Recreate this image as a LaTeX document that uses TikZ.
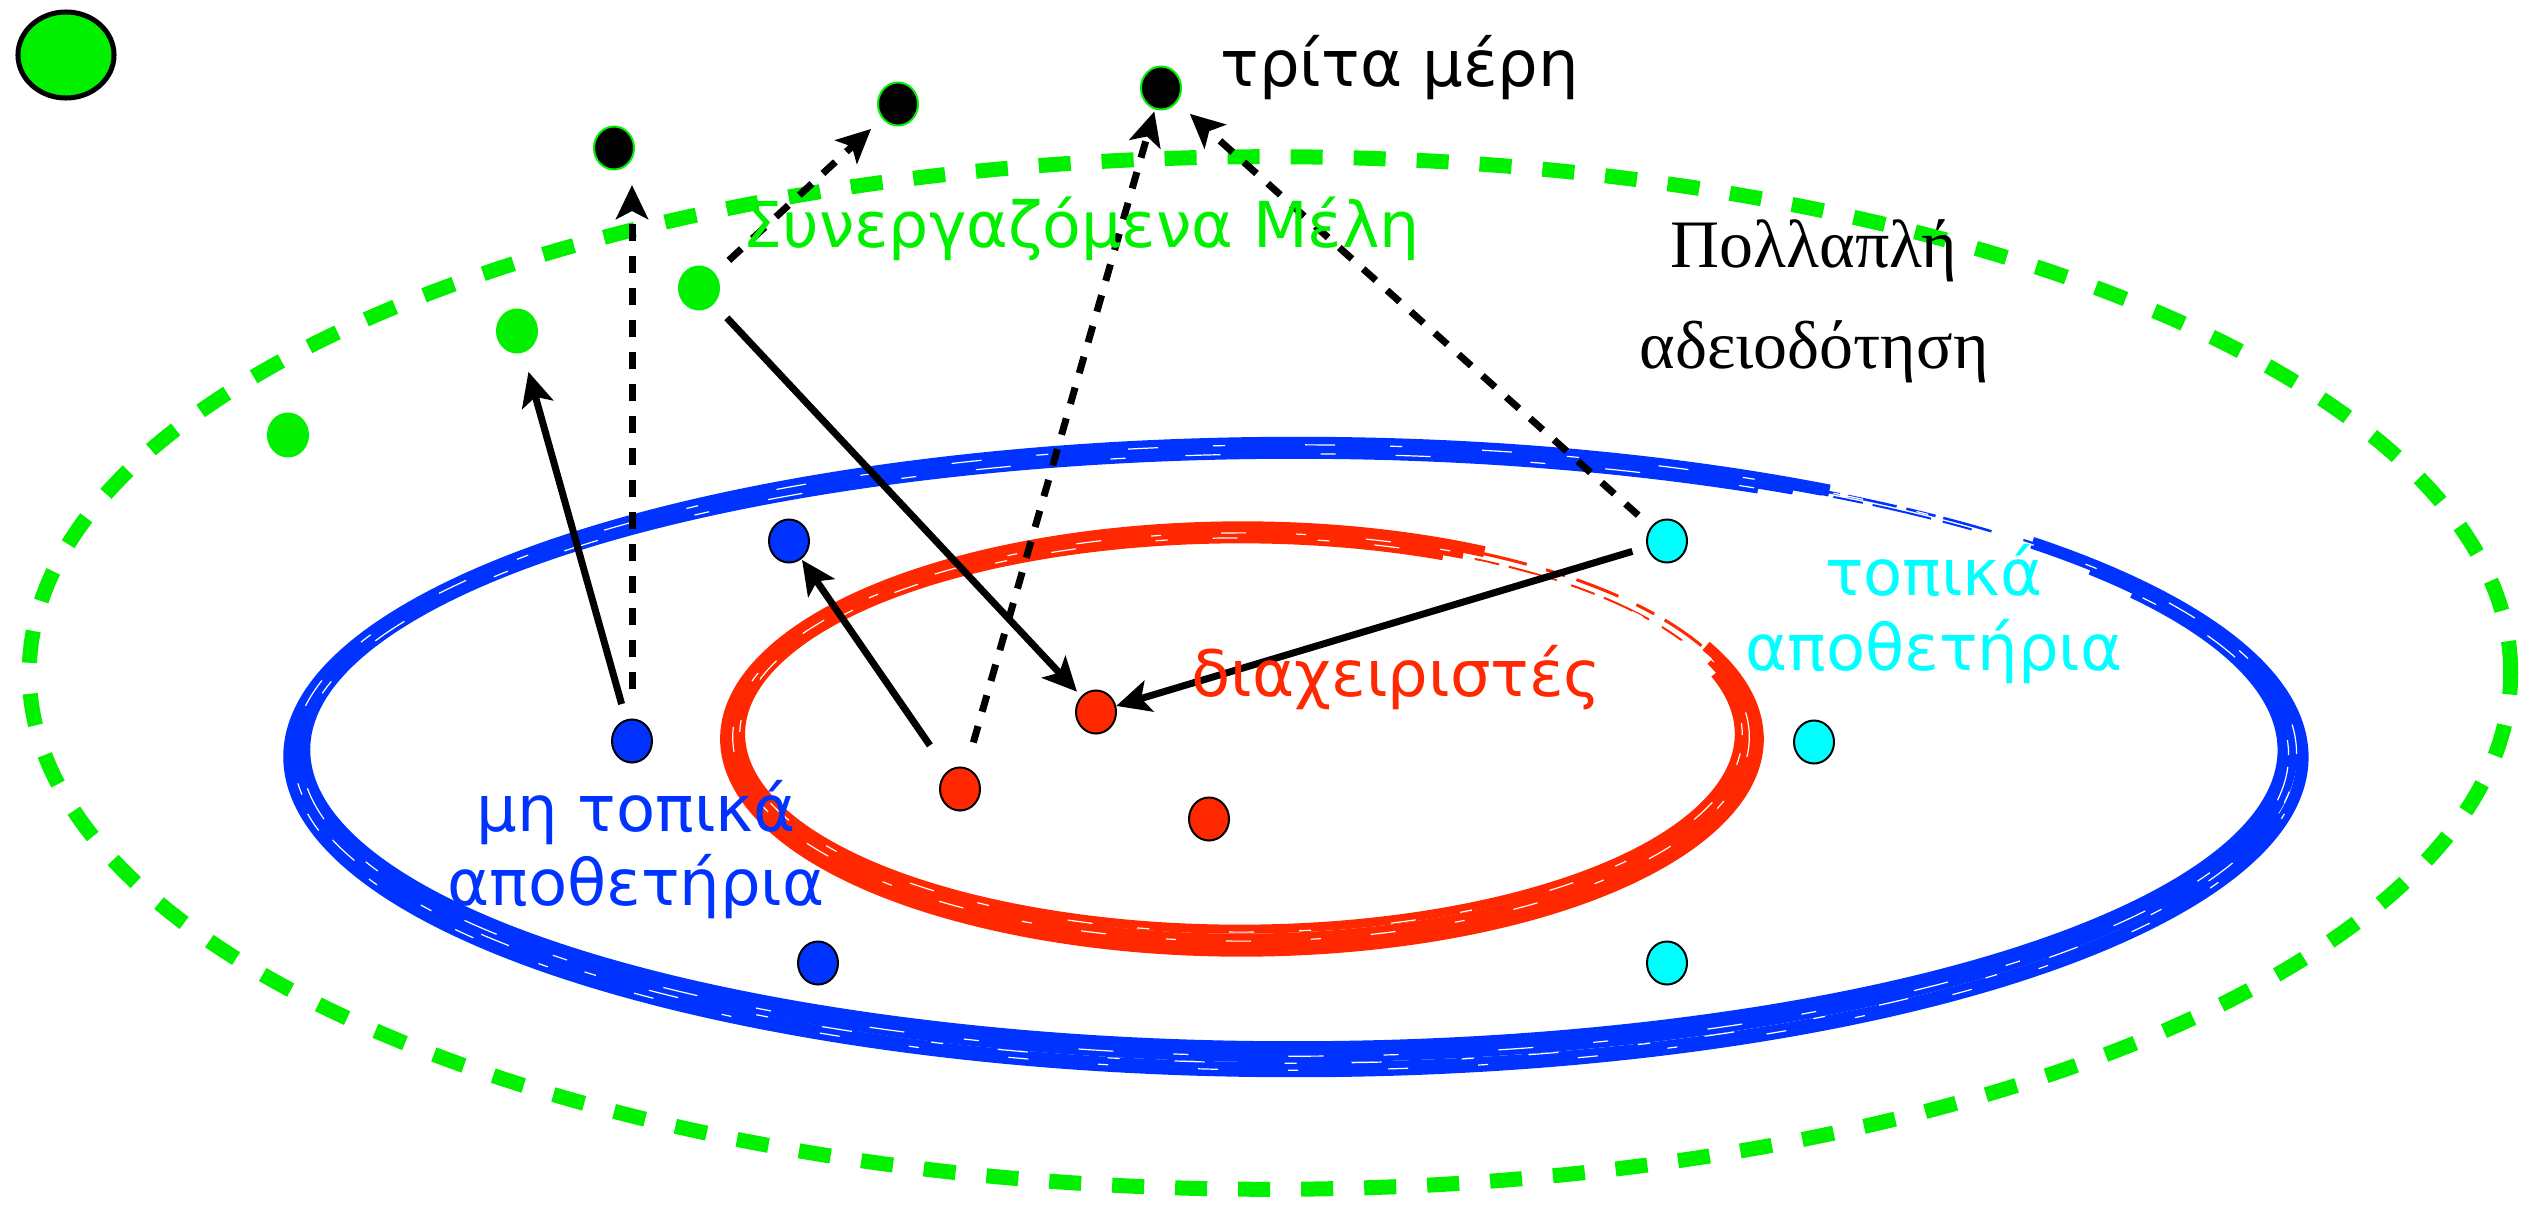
\documentclass[tikz,border=0pt]{standalone}
\usepackage{fontspec}
\newfontfamily\grsans{DejaVu Sans}
\newfontfamily\grserif{Liberation Serif}
\usetikzlibrary{arrows.meta,shapes.geometric}
\definecolor{lgreen}{RGB}{0,240,0}
\definecolor{rblue}{RGB}{0,51,255}
\definecolor{rred}{RGB}{255,40,0}
\definecolor{rcyan}{RGB}{0,255,255}
\newcommand\twoln[3]{\vtop{\baselineskip=#1\relax\halign{\hfil##\hfil\cr#2\cr#3\cr}}}
\newcommand\ringarc[6]{\draw[#1] (#2) ++(#5:#3 and #4) arc[start angle=#5,end angle=#6,x radius=#3,y radius=#4];}
\begin{document}
\begin{tikzpicture}[x=0.01cm,y=-0.01cm,
  dot/.style={ellipse,inner sep=0pt,minimum width=0.40cm,minimum height=0.43cm,line width=0.02cm},
  arr/.style={-{Stealth[length=0.34cm,width=0.32cm,inset=0.08cm]},line width=0.07cm},
  darr/.style={arr,dash pattern=on 0.17cm off 0.15cm},
  sanstxt/.style={inner sep=0pt,font=\grsans\fontsize{18.2}{22}\selectfont},
  seriftxt/.style={inner sep=0pt,font=\grserif\fontsize{19.3}{23}\selectfont},
  tex/.style={white,line width=0.012cm}]
\fill[white] (0,0) rectangle (2521,1206);
\useasboundingbox (0,0) rectangle (2521,1206);

% outer green dashed ellipse
\draw[lgreen,line width=0.15cm,dash pattern=on 0.32cm off 0.31cm] (1270,673) ellipse [x radius=12.40cm,y radius=5.16cm];

% blue ring
\ringarc{rblue,line width=0.12cm}{1296,757}{10.06cm}{3.14cm}{58}{403}
\ringarc{rblue,line width=0.12cm}{1295,752}{9.96cm}{3.04cm}{60}{397}
\ringarc{rblue,line width=0.10cm}{1294,750}{9.88cm}{2.96cm}{62}{392}
\ringarc{rblue,line width=0.12cm}{1296,762}{10.00cm}{3.06cm}{190}{350}
\ringarc{rblue,line width=0.025cm,dash pattern=on 0.5cm off 0.08cm on 0.3cm off 0.1cm}{1295,753}{10.02cm}{3.08cm}{46}{60}
\ringarc{rblue,line width=0.02cm,dash pattern=on 0.3cm off 0.12cm on 0.6cm off 0.1cm}{1294,749}{9.93cm}{3.00cm}{47}{63}
\ringarc{rblue,line width=0.03cm}{1297,760}{10.09cm}{3.16cm}{38}{44}
\ringarc{tex,dash pattern=on 0.3cm off 0.8cm on 0.12cm off 0.55cm}{1295,754}{10.01cm}{3.09cm}{0}{360}
\ringarc{tex,dash pattern=on 0.15cm off 1.0cm on 0.35cm off 0.6cm}{1295,755}{9.93cm}{3.01cm}{0}{360}
\ringarc{tex,dash pattern=on 0.2cm off 0.7cm on 0.1cm off 0.9cm}{1296,760}{10.03cm}{3.10cm}{190}{350}

% red ring
\ringarc{rred,line width=0.11cm}{1242,739}{5.16cm}{2.12cm}{62}{386}
\ringarc{rred,line width=0.11cm}{1241,736}{5.07cm}{2.03cm}{64}{382}
\ringarc{rred,line width=0.09cm}{1240,734}{4.99cm}{1.95cm}{66}{378}
\ringarc{rred,line width=0.11cm}{1241,741}{5.09cm}{2.06cm}{190}{350}
\ringarc{rred,line width=0.03cm,dash pattern=on 0.45cm off 0.12cm on 0.2cm off 0.2cm}{1241,737}{5.12cm}{2.08cm}{26}{64}
\ringarc{rred,line width=0.02cm,dash pattern=on 0.25cm off 0.15cm on 0.5cm off 0.1cm}{1240,734}{5.01cm}{1.98cm}{28}{63}
\ringarc{tex,dash pattern=on 0.25cm off 0.6cm on 0.1cm off 0.5cm}{1241,737}{5.08cm}{2.04cm}{0}{360}
\ringarc{tex,dash pattern=on 0.12cm off 0.8cm on 0.25cm off 0.45cm}{1241,735}{5.01cm}{1.97cm}{0}{360}

% legend circle
\node[ellipse,inner sep=0pt,minimum width=0.96cm,minimum height=0.86cm,fill=lgreen,draw=black,line width=0.05cm] (legend) at (66,55) {};

% third parties
\node[dot,fill=black,draw=lgreen] (tpA) at (614,148) {};
\node[dot,fill=black,draw=lgreen] (tpB) at (898,104) {};
\node[dot,fill=black,draw=lgreen] (tpC) at (1161,88) {};
% members
\node[dot,fill=lgreen,draw=lgreen] (mG1) at (699,288) {};
\node[dot,fill=lgreen,draw=lgreen] (mG2) at (517,331) {};
\node[dot,fill=lgreen,draw=lgreen] (mG3) at (288,435) {};
% non-local repositories
\node[dot,fill=rblue,draw=black] (nb1) at (632,741) {};
\node[dot,fill=rblue,draw=black] (nb2) at (789,541) {};
\node[dot,fill=rblue,draw=black] (nb3) at (818,963) {};
% managers
\node[dot,fill=rred,draw=black] (mr1) at (960,789) {};
\node[dot,fill=rred,draw=black] (mr2) at (1096,712) {};
\node[dot,fill=rred,draw=black] (mr3) at (1209,819) {};
% local repositories
\node[dot,fill=rcyan,draw=black] (lc1) at (1667,541) {};
\node[dot,fill=rcyan,draw=black] (lc2) at (1814,742) {};
\node[dot,fill=rcyan,draw=black] (lc3) at (1667,963) {};

% arrows
\draw[arr,shorten <=0.16cm,shorten >=0.20cm] (nb1) -- (mG2);
\draw[arr,shorten <=0.19cm,shorten >=0.06cm] (mG1) -- (mr2);
\draw[arr,shorten <=0.31cm,shorten >=0.01cm] (mr1) -- (nb2);
\draw[arr,shorten <=0.15cm] (lc1) -- (mr2);
\draw[darr,shorten <=0.29cm,shorten >=0.37cm] (nb1) -- (nb1 |- tpA);
\draw[darr,shorten <=0.19cm,shorten >=0.15cm] (mG1) -- (tpB);
\draw[darr,shorten <=0.26cm,shorten >=0.02cm] (mr1) -- (tpC);
\draw[darr,shorten <=0.17cm,shorten >=0.17cm] (lc1) -- (tpC);

% texts
\node[sanstxt,anchor=base west] (t1) at (1220,86) {τρίτα μέρη};
\node[sanstxt,anchor=base west,text=lgreen,font=\grsans\fontsize{18}{22}\selectfont] (t2) at (742,247) {Συνεργαζόμενα Μέλη};
\node[seriftxt,anchor=base] (t3) at (1814,267) {Πολλαπλή};
\node[seriftxt,anchor=base] (t4) at (1814,368) {αδειοδότηση};
\node[sanstxt,anchor=base,text=rblue] (t5) at (636,831) {\twoln{0.74cm}{μη τοπικά}{αποθετήρια}};
\node[sanstxt,anchor=base west,text=rred] (t6) at (1191,696) {διαχειριστές};
\node[sanstxt,anchor=base,text=rcyan] (t7) at (1934,595) {\twoln{0.75cm}{τοπικά}{αποθετήρια}};
\end{tikzpicture}
\end{document}
